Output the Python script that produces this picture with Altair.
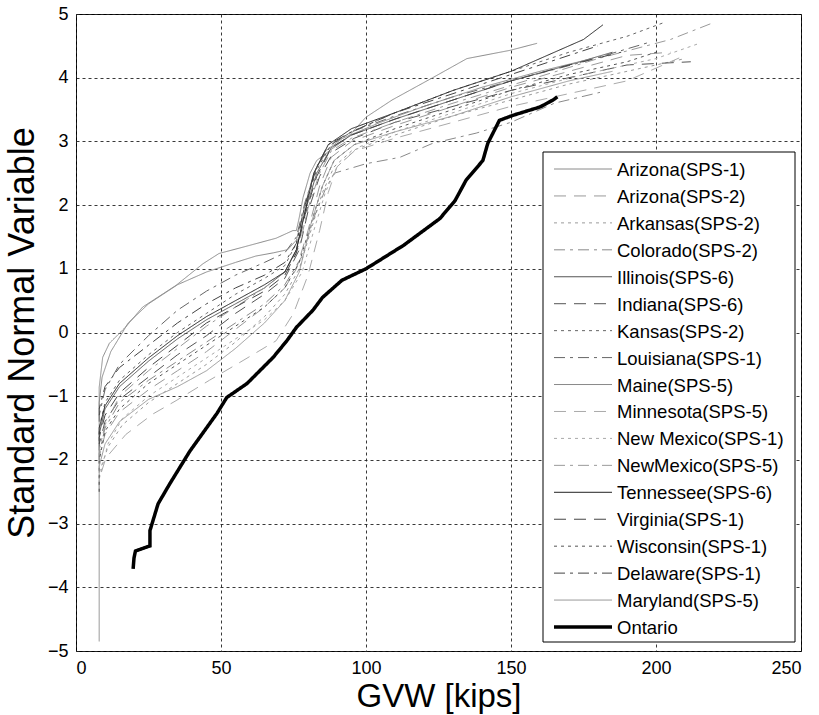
import altair as alt
import pandas as pd

FONT = "Liberation Sans"

series_names = [
    "Arizona(SPS-1)", "Arizona(SPS-2)", "Arkansas(SPS-2)", "Colorado(SPS-2)",
    "Illinois(SPS-6)", "Indiana(SPS-6)", "Kansas(SPS-2)", "Louisiana(SPS-1)",
    "Maine(SPS-5)", "Minnesota(SPS-5)", "New Mexico(SPS-1)", "NewMexico(SPS-5)",
    "Tennessee(SPS-6)", "Virginia(SPS-1)", "Wisconsin(SPS-1)", "Delaware(SPS-1)",
    "Maryland(SPS-5)", "Ontario",
]
series_colors = [
    "#8a8a8a", "#9a9a9a", "#9a9a9a", "#8a8a8a",
    "#555555", "#555555", "#666666", "#666666",
    "#8a8a8a", "#aaaaaa", "#aaaaaa", "#9a9a9a",
    "#222222", "#444444", "#555555", "#444444",
    "#999999", "#000000",
]
SOLID, DASH, DOT, DASHDOT = [1, 0], [12, 8], [3, 4], [11, 5, 3, 5]
series_dashes = [
    SOLID, DASH, DOT, DASHDOT,
    SOLID, DASH, DOT, DASHDOT,
    SOLID, DASH, DOT, DASHDOT,
    SOLID, DASH, DOT, DASHDOT,
    SOLID, SOLID,
]

# ---- values (GVW in kips, standard normal variable) ----
az1_x = [8, 8, 9.2, 11.5, 17, 23, 34.5, 43.8, 49.3, 57.6, 69, 74.8, 76, 77, 78.3, 80.7, 83, 87.6, 93.4, 100, 109, 123, 134.8, 149.7, 159]
az1_y = [-4.85, -0.86, -0.39, -0.17, 0.08, 0.4, 0.74, 1.08, 1.24, 1.34, 1.48, 1.6, 1.6, 1.81, 2.12, 2.5, 2.7, 2.86, 3.05, 3.38, 3.65, 4.0, 4.3, 4.43, 4.54]

az2_x = [8, 8, 10, 15, 25, 35, 45, 55, 65, 72, 76, 80, 84, 88, 95, 110, 130, 150, 170, 190, 205]
az2_y = [-2.05, -1.95, -1.6, -1.25, -0.9, -0.6, -0.3, 0.05, 0.4, 0.7, 1.0, 1.6, 2.3, 2.75, 3.0, 3.25, 3.55, 3.85, 4.1, 4.35, 4.4]

ark_x = [8, 8, 11, 16, 25, 35, 45, 55, 65, 72, 77, 81, 85, 89, 95, 110, 130, 150, 170, 190, 210]
ark_y = [-2.3, -2.2, -1.8, -1.45, -1.1, -0.8, -0.5, -0.15, 0.25, 0.6, 1.0, 1.6, 2.2, 2.6, 2.85, 3.1, 3.4, 3.65, 3.9, 4.1, 4.3]

col_x = [8, 8, 10, 15, 25, 35, 45, 55, 65, 72, 78, 82, 86, 89, 100, 111.7, 123, 138, 150, 165, 180.7]
col_y = [-2.0, -1.9, -1.5, -1.1, -0.75, -0.45, -0.15, 0.15, 0.45, 0.75, 1.2, 1.8, 2.25, 2.5, 2.65, 2.75, 2.97, 3.13, 3.3, 3.6, 3.77]

ill_x = [8, 8, 10, 15, 25, 35, 45, 55, 65, 72, 76, 79, 83, 88, 95, 110, 130, 150, 170, 185]
ill_y = [-1.7, -1.6, -1.2, -0.85, -0.45, -0.1, 0.2, 0.45, 0.7, 0.95, 1.3, 1.9, 2.5, 2.9, 3.1, 3.35, 3.65, 3.95, 4.2, 4.4]

ind_x = [8, 8, 10, 15, 25, 35, 45, 55, 65, 72, 77, 80, 84, 89, 96, 110, 130, 150, 170, 190, 212]
ind_y = [-1.85, -1.75, -1.4, -1.05, -0.7, -0.35, -0.05, 0.3, 0.6, 0.85, 1.3, 1.9, 2.45, 2.85, 3.05, 3.3, 3.55, 3.8, 4.0, 4.2, 4.25]

kan_x = [8, 8, 10, 15, 25, 35, 45, 55, 65, 72, 76, 79, 83, 88, 95, 110, 130, 150, 170, 190, 202.4]
kan_y = [-1.6, -1.5, -1.1, -0.75, -0.35, 0.0, 0.3, 0.6, 0.85, 1.05, 1.4, 2.0, 2.55, 2.95, 3.15, 3.45, 3.8, 4.1, 4.4, 4.65, 4.86]

lou_x = [8, 8, 10, 15, 25, 35, 45, 55, 65, 72, 76, 79, 83, 88, 95, 110, 130, 150, 175, 198]
lou_y = [-1.4, -1.3, -0.9, -0.5, -0.05, 0.35, 0.65, 0.9, 1.1, 1.25, 1.5, 2.05, 2.6, 2.95, 3.15, 3.4, 3.7, 3.95, 4.25, 4.56]

mai_x = [8, 8, 9, 12, 18, 25, 35, 45, 55, 62, 68, 73, 76, 79, 82, 86, 92, 105, 120, 140, 160, 178]
mai_y = [-1.2, -1.1, -0.7, -0.3, 0.15, 0.45, 0.75, 0.95, 1.1, 1.2, 1.25, 1.3, 1.45, 2.0, 2.5, 2.85, 3.05, 3.3, 3.55, 3.85, 4.1, 4.3]

min_x = [8, 8, 10.3, 17.2, 26.5, 34.5, 46, 57.6, 69, 75, 80, 84, 87, 90, 96, 110, 130, 150, 170, 190, 208]
min_y = [-2.5, -2.3, -1.97, -1.6, -1.28, -1.07, -0.75, -0.44, -0.13, 0.3, 0.9, 1.6, 2.2, 2.6, 2.85, 3.05, 3.3, 3.55, 3.75, 3.95, 4.31]

nm1_x = [8, 8, 11, 16, 25, 35, 45, 55, 65, 72, 78, 82, 86, 90, 97, 110, 130, 150, 175, 200, 215]
nm1_y = [-2.4, -2.3, -1.75, -1.35, -1.0, -0.7, -0.4, -0.1, 0.2, 0.5, 0.95, 1.6, 2.2, 2.6, 2.9, 3.15, 3.45, 3.75, 4.05, 4.3, 4.54]

nm5_x = [8, 8, 10, 15, 25, 35, 45, 55, 65, 72, 77, 80, 84, 88, 95, 110, 130, 155, 180, 205, 219]
nm5_y = [-1.95, -1.85, -1.45, -1.0, -0.6, -0.25, 0.1, 0.4, 0.7, 0.95, 1.35, 1.95, 2.5, 2.85, 3.05, 3.3, 3.6, 3.95, 4.3, 4.6, 4.85]

ten_x = [8, 8, 10, 15, 25, 35, 45, 55, 65, 72, 76, 79, 82, 87, 95, 110, 130, 150, 165, 175, 181.7]
ten_y = [-1.6, -1.5, -1.15, -0.8, -0.4, -0.05, 0.25, 0.5, 0.75, 0.95, 1.3, 1.9, 2.5, 2.95, 3.2, 3.45, 3.8, 4.1, 4.4, 4.6, 4.83]

vir_x = [8, 8, 10, 15, 25, 35, 45, 55, 65, 72, 76, 79, 83, 88, 95, 110, 130, 150, 170, 188]
vir_y = [-1.75, -1.65, -1.3, -0.95, -0.55, -0.2, 0.15, 0.4, 0.65, 0.9, 1.25, 1.85, 2.45, 2.9, 3.1, 3.35, 3.65, 3.95, 4.2, 4.4]

wis_x = [8, 8, 8.5, 10, 15, 25, 35, 45, 55, 65, 72, 77, 81, 85, 89, 96, 110, 130, 150, 170, 190, 200]
wis_y = [-2.5, -2.0, -1.9, -1.55, -1.2, -0.8, -0.5, -0.2, 0.1, 0.4, 0.7, 1.1, 1.7, 2.3, 2.7, 2.95, 3.2, 3.5, 3.8, 4.05, 4.25, 4.4]

del_x = [8, 8, 10, 15, 25, 35, 45, 55, 65, 72, 76, 79, 83, 87, 95, 110, 130, 150, 170, 180]
del_y = [-1.3, -1.2, -0.85, -0.55, -0.2, 0.15, 0.45, 0.7, 0.9, 1.1, 1.4, 2.0, 2.6, 2.95, 3.15, 3.45, 3.75, 4.05, 4.35, 4.5]

mar_x = [8, 8, 10, 15, 25, 35, 45, 55, 65, 72, 77, 81, 85, 89, 96, 110, 130, 150, 170, 185]
mar_y = [-2.2, -2.1, -1.75, -1.4, -1.05, -0.85, -0.6, -0.25, 0.15, 0.5, 0.95, 1.7, 2.3, 2.7, 2.95, 3.15, 3.4, 3.7, 3.95, 4.1]

ont_x = [19.7, 20, 20.5, 25.5, 25.5, 28.3, 32.4, 39.3, 48.6, 52, 59, 68, 72.7, 76, 81.7, 85, 91.7, 100, 113, 125.5, 130.7, 134.5, 140.3, 142, 146, 150.7, 160, 164.5, 166]
ont_y = [-3.71, -3.54, -3.43, -3.35, -3.11, -2.69, -2.37, -1.86, -1.27, -1.02, -0.8, -0.39, -0.13, 0.08, 0.35, 0.55, 0.82, 1.0, 1.37, 1.79, 2.07, 2.39, 2.7, 2.97, 3.33, 3.41, 3.54, 3.65, 3.7]

all_x = [az1_x, az2_x, ark_x, col_x, ill_x, ind_x, kan_x, lou_x, mai_x, min_x,
         nm1_x, nm5_x, ten_x, vir_x, wis_x, del_x, mar_x, ont_x]
all_y = [az1_y, az2_y, ark_y, col_y, ill_y, ind_y, kan_y, lou_y, mai_y, min_y,
         nm1_y, nm5_y, ten_y, vir_y, wis_y, del_y, mar_y, ont_y]

rows = []
for name, xs, ys in zip(series_names, all_x, all_y):
    for i, (xv, yv) in enumerate(zip(xs, ys)):
        rows.append({"series": name, "x": xv, "y": yv, "i": i})
df = pd.DataFrame(rows)
leg_df = pd.DataFrame({"series": series_names, "row": list(range(len(series_names)))})

color_scale = alt.Scale(domain=series_names, range=series_colors)
dash_scale = alt.Scale(domain=series_names, range=series_dashes)
width_rule = alt.condition(alt.datum.series == "Ontario", alt.value(3.5), alt.value(1))

lines = alt.Chart(df).mark_line(clip=True, strokeCap="butt").encode(
    x=alt.X("x:Q", scale=alt.Scale(domain=[0, 250], nice=False),
            axis=alt.Axis(values=[0, 50, 100, 150, 200, 250], title="GVW [kips]",
                          labelPadding=8, titlePadding=3, titleFontSize=33)),
    y=alt.Y("y:Q", scale=alt.Scale(domain=[-5, 5], nice=False),
            axis=alt.Axis(values=list(range(-5, 6)), title="Standard Normal Variable",
                          labelPadding=8, titlePadding=6, titleFontSize=36)),
    color=alt.Color("series:N", scale=color_scale, legend=None),
    strokeDash=alt.StrokeDash("series:N", scale=dash_scale, legend=None),
    strokeWidth=width_rule,
    order="i:Q",
)

# legend (drawn inside the plot, as in the reference)
leg_box = alt.Chart(pd.DataFrame({"k": [0]})).mark_rect(
    fill="white", stroke="black", strokeWidth=1
).encode(
    x=alt.value(467), x2=alt.value(719), y=alt.value(138), y2=alt.value(628)
)
row_y = alt.Y("row:Q", scale=alt.Scale(domain=[0, 17], range=[155, 613]), axis=None)
leg_lines = alt.Chart(leg_df).mark_rule(strokeCap="butt").encode(
    x=alt.value(478), x2=alt.value(536), y=row_y,
    color=alt.Color("series:N", scale=color_scale, legend=None),
    strokeDash=alt.StrokeDash("series:N", scale=dash_scale, legend=None),
    strokeWidth=width_rule,
)
leg_text = alt.Chart(leg_df).mark_text(
    align="left", baseline="middle", font=FONT, fontSize=18.5, color="black", dy=1
).encode(
    x=alt.value(541), y=row_y, text="series:N"
)

chart = alt.layer(lines, leg_box, leg_lines, leg_text).resolve_scale(
    y="independent"
).properties(
    width=725, height=637,
    padding={"left": 76, "top": 14, "right": 18, "bottom": 64},
    autosize="none",
).configure_view(
    stroke="black", strokeWidth=1
).configure_axis(
    grid=True, gridDash=[3, 3], gridColor="#222222", gridOpacity=0.9, gridWidth=1,
    ticks=False, domain=False,
    labelFont=FONT, labelFontSize=18, labelColor="black",
    titleFont=FONT, titleFontWeight="normal", titleColor="black",
)

chart.save("out.html", embed_options={"renderer": "svg", "actions": False})
